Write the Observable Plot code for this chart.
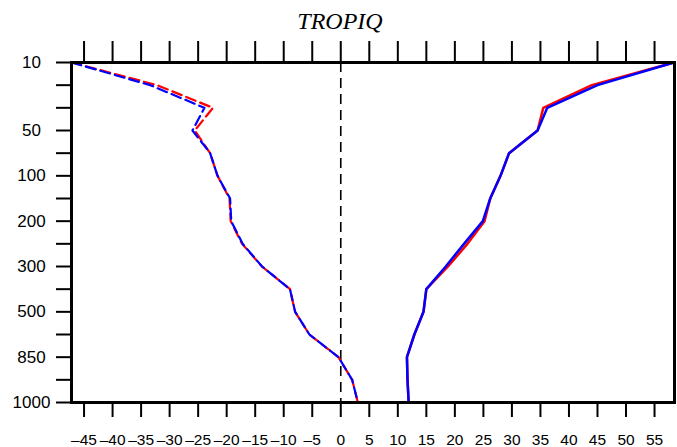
<!DOCTYPE html>
<html><head><meta charset="utf-8">
<script src="https://cdn.jsdelivr.net/npm/d3@7"></script>
<script src="https://cdn.jsdelivr.net/npm/@observablehq/plot@0.6"></script>
<style>
body{margin:0;background:#fff;}
#wrap{position:relative;width:677px;height:447px;overflow:hidden;}
#title{position:absolute;top:8px;left:0;width:680px;text-align:center;font:italic 24px "Liberation Serif","Times New Roman",serif;color:#000;}
</style></head><body>
<div id="wrap"><div id="chart"></div><div id="title">TROPIQ</div></div>
<script>
// pressure levels (hPa), evenly spaced by index on the y axis
const levels = [10, 20, 30, 50, 70, 100, 150, 200, 250, 300, 400, 500, 700, 850, 925, 1000];
const labeledLevels = [10, 50, 100, 200, 300, 500, 850, 1000];
const xTicks = [-45, -40, -35, -30, -25, -20, -15, -10, -5, 0, 5, 10, 15, 20, 25, 30, 35, 40, 45, 50, 55];

// dashed (left) series
const dashedRed  = [-47.2, -32.2, -22.4, -25.6, -22.9, -21.6, -19.5, -19.3, -17.3, -13.8, -8.9, -8.0, -5.5, -0.4, 2.0, 3.0];
const dashedBlue = [-47.2, -33.4, -23.9, -26.0, -22.9, -21.6, -19.4, -19.2, -17.2, -13.8, -8.9, -8.0, -5.5, -0.4, 2.0, 3.0];
// solid (right) series
const solidRed   = [58.4, 44.0, 35.5, 34.5, 29.5, 28.0, 26.2, 25.2, 22.2, 18.8, 15.0, 14.5, 12.9, 11.6, 11.7, 11.9];
const solidBlue  = [58.4, 45.0, 36.2, 34.5, 29.5, 28.0, 26.2, 24.9, 21.6, 18.4, 15.0, 14.5, 12.9, 11.6, 11.7, 11.9];

const rows = vals => vals.map((v, i) => ({x: v, i, level: levels[i]}));
const idx = levels.map((_, i) => i);
const fmtX = v => v < 0 ? "\u2013" + Math.abs(v) : String(v);

const chart = Plot.plot({
  width: 677, height: 447,
  marginLeft: 71, marginRight: 3, marginTop: 62, marginBottom: 45,
  style: {fontFamily: '"Liberation Sans", Arial, sans-serif', fontSize: "15px", background: "#fff", color: "#000"},
  x: {domain: [-47.2, 58.5], label: null},
  y: {domain: [0, 15], reverse: true, label: null},
  marks: [
    Plot.ruleX([0], {stroke: "black", strokeWidth: 1.6, strokeDasharray: "10,6"}),
    Plot.line(rows(dashedRed),  {x: "x", y: "i", stroke: "red",  strokeWidth: 2.2, strokeDasharray: "10,5"}),
    Plot.line(rows(dashedBlue), {x: "x", y: "i", stroke: "blue", strokeWidth: 2.2, strokeDasharray: "10,5"}),
    Plot.line(rows(solidRed),   {x: "x", y: "i", stroke: "red",  strokeWidth: 2.5}),
    Plot.line(rows(solidBlue),  {x: "x", y: "i", stroke: "blue", strokeWidth: 2.5}),
    Plot.axisX(xTicks, {anchor: "bottom", tickSize: 15, tickPadding: 16, fontSize: 15.5, strokeWidth: 2, label: null, tickFormat: fmtX}),
    Plot.axisX(xTicks, {anchor: "top", tickSize: 22, tickFormat: () => "", strokeWidth: 2, label: null}),
    Plot.axisY(idx, {anchor: "left", tickSize: 15, tickPadding: 25, textAnchor: "middle", fontSize: 17, strokeWidth: 2, label: null,
      tickFormat: i => labeledLevels.includes(levels[i]) ? String(levels[i]) : ""}),
    Plot.frame({stroke: "black", strokeWidth: 3})
  ]
});
document.getElementById("chart").appendChild(chart);
</script>
</body></html>
